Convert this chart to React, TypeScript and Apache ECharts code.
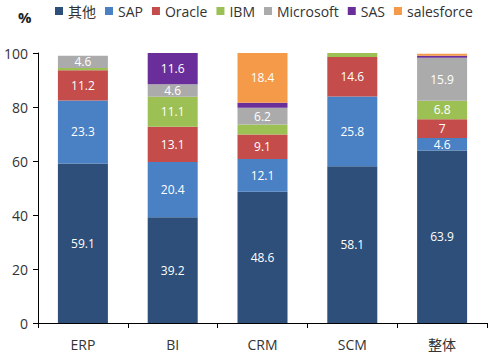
import React, { useEffect, useRef } from "react";
import * as echarts from "echarts";

const categories = ["ERP", "BI", "CRM", "SCM", "整体"];
const seriesNames = ["其他", "SAP", "Oracle", "IBM", "Microsoft", "SAS", "salesforce"];
const qita = [59.1, 39.2, 48.6, 58.1, 63.9];
const sap = [23.3, 20.4, 12.1, 25.8, 4.6];
const oracle = [11.2, 13.1, 9.1, 14.6, 7];
const ibm = [0.8, 11.1, 3.7, 1.5, 6.8];
const microsoft = [4.6, 4.6, 6.2, 0, 15.9];
const sas = [0, 11.6, 1.9, 0, 0.8];
const salesforce = [0, 0, 18.4, 0, 0.7];
const yTicks = [0, 20, 40, 60, 80, 100];

const values = [qita, sap, oracle, ibm, microsoft, sas, salesforce];
const colors = ["#2D4F79", "#4A80C4", "#C44C4A", "#9DC055", "#ABABAB", "#6A2E9A", "#F59A48"];

export default function App() {
  const ref = useRef<HTMLDivElement>(null);
  useEffect(() => {
    if (!ref.current) return;
    const chart = echarts.init(ref.current, null, { renderer: "svg" });
    const font = "Open Sans, Noto Sans CJK SC, sans-serif";
    chart.setOption({
      animation: false,
      textStyle: { fontFamily: font },
      color: colors,
      title: {
        text: "%",
        left: 18,
        top: 9,
        padding: 0,
        textStyle: { fontSize: 15, fontWeight: "bold", color: "#222", fontFamily: font },
      },
      legend: {
        data: seriesNames,
        left: 55,
        top: 4,
        padding: 0,
        itemWidth: 8,
        itemHeight: 8,
        itemGap: 9,
        icon: "rect",
        textStyle: { fontSize: 14, color: "#333", fontFamily: font },
      },
      grid: { left: 38, right: 11, top: 53, bottom: 32, containLabel: false },
      xAxis: {
        type: "category",
        data: categories,
        axisLine: { lineStyle: { color: "#000", width: 1 } },
        axisTick: { show: true, length: 5, lineStyle: { color: "#000" }, inside: false },
        axisLabel: { fontSize: 14, color: "#333", margin: 14, fontFamily: font },
      },
      yAxis: {
        type: "value",
        min: yTicks[0],
        max: yTicks[yTicks.length - 1],
        interval: 20,
        axisLine: { show: true, lineStyle: { color: "#000", width: 1 } },
        axisTick: { show: true, length: 5, lineStyle: { color: "#000" } },
        splitLine: { show: false },
        axisLabel: { fontSize: 14, color: "#333", margin: 10, fontFamily: font },
      },
      series: seriesNames.map((name, i) => ({
        name,
        type: "bar",
        stack: "total",
        barWidth: 50,
        data: values[i],
        itemStyle: { color: colors[i] },
        label: {
          show: true,
          position: "inside",
          color: "#fff",
          fontSize: 12,
          lineHeight: 13,
          fontFamily: font,
          formatter: (p: any) => (p.value >= 4 ? String(p.value) : ""),
        },
      })),
    });
    return () => chart.dispose();
  }, []);
  return (
    <div
      ref={ref}
      style={{ position: "absolute", left: 0, top: 0, width: 498, height: 355 }}
    />
  );
}
